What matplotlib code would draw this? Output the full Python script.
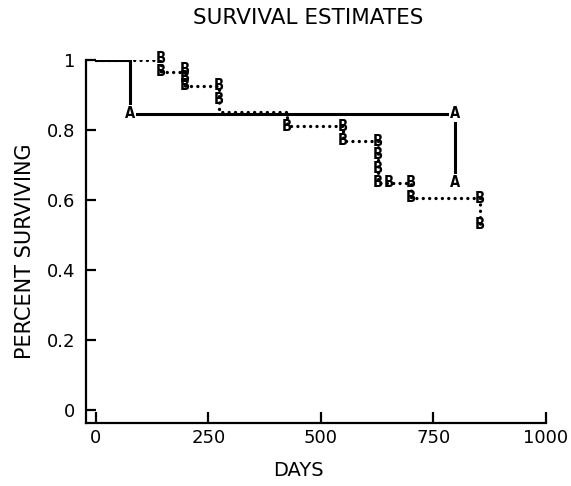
import matplotlib.pyplot as plt

# group A (solid) step curve and its event letters
a_days = [0, 75, 798]
a_surv = [1.0, 0.847, 0.651]
a_mark_days = [75, 798, 798]
a_mark_surv = [0.847, 0.847, 0.651]

# group B (dotted) step curve and its event letters
b_days = [0, 144, 197, 273, 424, 549, 627, 700, 853]
b_surv = [1.0, 0.966, 0.926, 0.851, 0.811, 0.769, 0.649, 0.606, 0.529]
b_mark_days = [144, 144, 197, 197, 197, 273, 273, 424, 549, 549,
               627, 627, 627, 627, 651, 700, 700, 853, 853]
b_mark_surv = [1.005, 0.966, 0.972, 0.949, 0.926, 0.926, 0.886, 0.811, 0.811, 0.769,
               0.766, 0.729, 0.689, 0.649, 0.649, 0.649, 0.606, 0.603, 0.529]

x_ticks = [0, 250, 500, 750, 1000]
y_ticks = [0, 0.2, 0.4, 0.6, 0.8, 1.0]
y_tick_labels = ["0", "0.2", "0.4", "0.6", "0.8", "1"]

plt.rcParams['font.family'] = ['DejaVu Sans']

fig = plt.figure(figsize=(5.71, 4.86), dpi=100)
ax = fig.add_axes([86 / 571, 63 / 486, 460 / 571, 363 / 486])

# step lines
ax.step(a_days, a_surv, where="post", color="black", linewidth=2.2, zorder=2)
ax.step(b_days, b_surv, where="post", color="black", linewidth=2.4,
        linestyle=(0, (0.01, 1.9)), dash_capstyle="round", zorder=2)

box = dict(facecolor="white", edgecolor="none", pad=0.6)
for x, y in zip(a_mark_days, a_mark_surv):
    ax.text(x, y, "A", ha="center", va="center", fontsize=10.5, fontweight="bold",
            fontstretch="condensed", bbox=box, zorder=3)
for x, y in zip(b_mark_days, b_mark_surv):
    ax.text(x, y, "B", ha="center", va="center", fontsize=10.5, fontweight="bold",
            fontstretch="condensed", zorder=3)

ax.set_xlim(-22, 1000)
ax.set_ylim(-0.037, 1.0)
ax.set_xticks(x_ticks)
ax.set_yticks(y_ticks)
ax.set_yticklabels(y_tick_labels)

for side in ["top", "right"]:
    ax.spines[side].set_visible(False)
for side in ["left", "bottom"]:
    ax.spines[side].set_linewidth(1.6)

ax.tick_params(axis="x", direction="in", length=8, width=1.6, pad=4, labelsize=13)
ax.tick_params(axis="y", direction="in", length=7, width=1.6, pad=8, labelsize=13)

ax.set_xlabel("DAYS", fontsize=14)
ax.xaxis.set_label_coords(0.461, -0.105)
ax.set_ylabel("PERCENT SURVIVING", fontsize=15)
ax.yaxis.set_label_coords(-0.11, 0.474)
ax.set_title("SURVIVAL ESTIMATES", fontsize=15.5, x=0.483, pad=26)

fig.savefig("out.png", dpi=100)
